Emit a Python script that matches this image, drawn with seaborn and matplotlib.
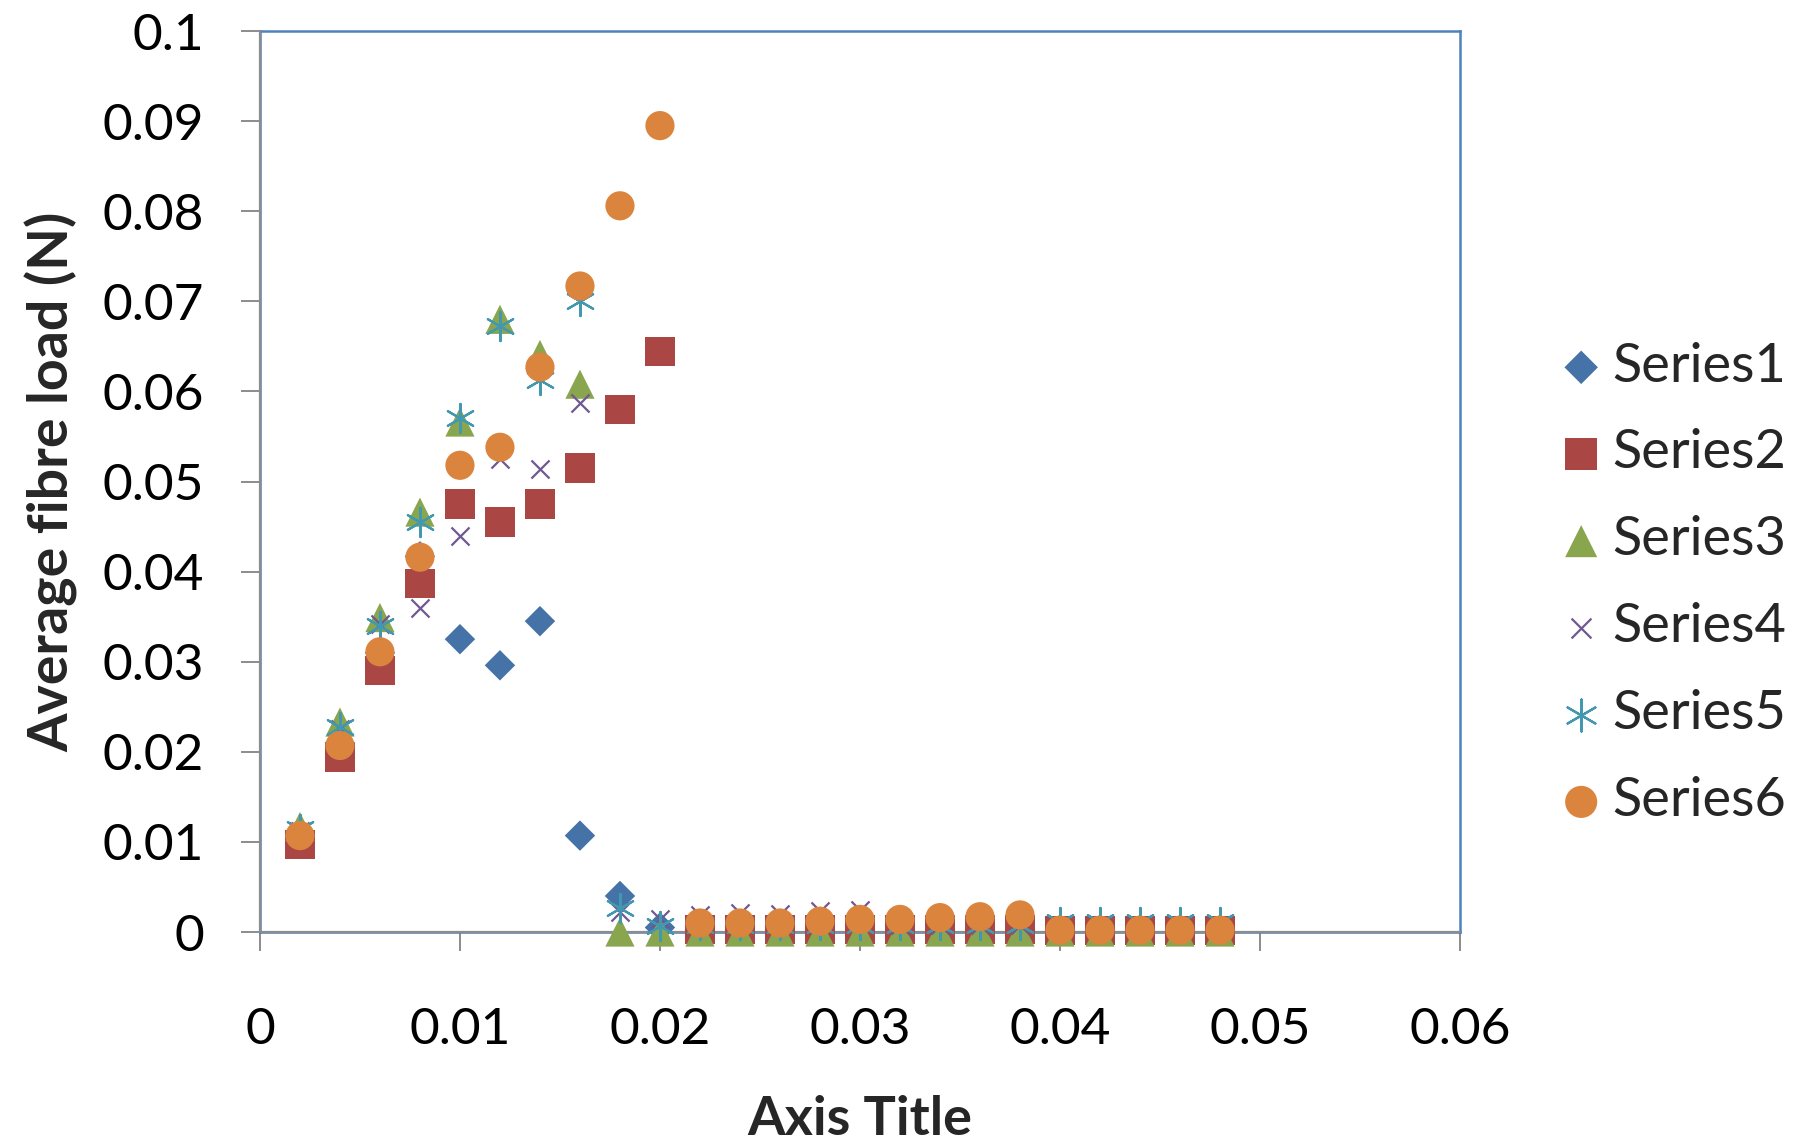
import matplotlib
matplotlib.use("Agg")
import matplotlib.pyplot as plt
import seaborn as sns
import numpy as np

# Fibre position along the sample
x_vals = [0.002, 0.004, 0.006, 0.008, 0.010, 0.012, 0.014, 0.016, 0.018, 0.020,
          0.022, 0.024, 0.026, 0.028, 0.030, 0.032, 0.034, 0.036, 0.038,
          0.040, 0.042, 0.044, 0.046, 0.048]

series1 = [0.0110, 0.0210, 0.0310, 0.0417, 0.0325, 0.0296, 0.0345, 0.0107, 0.0040, 0.0005,
           0.0003, 0.0003, 0.0003, 0.0003, 0.0003, 0.0003, 0.0003, 0.0003, 0.0003,
           0.0003, 0.0003, 0.0003, 0.0003, 0.0003]
series2 = [0.0097, 0.0194, 0.0290, 0.0387, 0.0475, 0.0455, 0.0475, 0.0515, 0.0580, 0.0644,
           0.0003, 0.0003, 0.0003, 0.0003, 0.0003, 0.0003, 0.0003, 0.0003, 0.0003,
           0.0002, 0.0002, 0.0002, 0.0002, 0.0002]
series3 = [0.0117, 0.0233, 0.0349, 0.0466, 0.0566, 0.0680, 0.0641, 0.0608, 0.0000, 0.0000,
           0.0000, 0.0000, 0.0000, 0.0000, 0.0000, 0.0000, 0.0000, 0.0000, 0.0000,
           0.0000, 0.0000, 0.0000, 0.0000, 0.0000]
series4 = [0.0112, 0.0225, 0.0342, 0.0360, 0.0439, 0.0525, 0.0514, 0.0587, 0.0022, 0.0014,
           0.0019, 0.0021, 0.0020, 0.0023, 0.0024, 0.0008, 0.0008, 0.0008, 0.0008,
           0.0005, 0.0005, 0.0005, 0.0005, 0.0005]
series5 = [0.0114, 0.0227, 0.0340, 0.0455, 0.0571, 0.0673, 0.0613, 0.0700, 0.0027, 0.0007,
           0.0008, 0.0008, 0.0008, 0.0008, 0.0008, 0.0008, 0.0008, 0.0008, 0.0008,
           0.0011, 0.0011, 0.0011, 0.0011, 0.0011]
series6 = [0.0107, 0.0207, 0.0311, 0.0416, 0.0518, 0.0538, 0.0627, 0.0717, 0.0806, 0.0895,
           0.0010, 0.0010, 0.0010, 0.0012, 0.0014, 0.0014, 0.0016, 0.0017, 0.0019,
           0.0002, 0.0002, 0.0002, 0.0002, 0.0002]

series_names = ["Series1", "Series2", "Series3", "Series4", "Series5", "Series6"]
x_ticks = [0, 0.01, 0.02, 0.03, 0.04, 0.05, 0.06]
x_tick_labels = ["0", "0.01", "0.02", "0.03", "0.04", "0.05", "0.06"]
y_ticks = [0, 0.01, 0.02, 0.03, 0.04, 0.05, 0.06, 0.07, 0.08, 0.09, 0.1]
y_tick_labels = ["0", "0.01", "0.02", "0.03", "0.04", "0.05", "0.06", "0.07", "0.08", "0.09", "0.1"]

sns.set_theme(style="white")
plt.rcParams["font.family"] = ["Lato", "DejaVu Sans"]

fig = plt.figure(figsize=(18.05, 11.44), dpi=100)
ax = fig.add_axes([0.1440, 0.1853, 0.8089 - 0.1440, 0.9729 - 0.1853])

styles = [
    dict(marker="D", color="#4572A7", s=15.5 ** 2, linewidth=0),
    dict(marker="s", color="#AA4643", s=21 ** 2, linewidth=0),
    dict(marker="^", color="#89A54E", s=21 ** 2, linewidth=0),
    dict(marker="x", color="#71588F", s=13 ** 2, linewidth=1.6),
    dict(marker=(6, 2, 0), color="#4198AF", s=21 ** 2, linewidth=1.6),
    dict(marker="o", color="#DB843D", s=21 ** 2, linewidth=0),
]
all_series = [series1, series2, series3, series4, series5, series6]

for name, ys, st in zip(series_names, all_series, styles):
    kw = dict(st)
    if kw["marker"] in ("D", "s", "^", "o"):
        kw["edgecolor"] = "none"
    sns.scatterplot(x=x_vals, y=ys, ax=ax, label=name, zorder=3, clip_on=False, **kw)

ax.set_xlim(0, 0.06)
ax.set_ylim(0, 0.1)
ax.set_xticks(x_ticks)
ax.set_xticklabels(x_tick_labels)
ax.set_yticks(y_ticks)
ax.set_yticklabels(y_tick_labels)
ax.grid(False)

for side in ["top", "right", "left", "bottom"]:
    ax.spines[side].set_color("#4F81BD")
    ax.spines[side].set_linewidth(1.8)
    ax.spines[side].set_zorder(1)

# grey category/value axis lines along the left and bottom
ax.plot([0, 1], [0, 0], transform=ax.transAxes, color="#8C8C8C", lw=1.6,
        zorder=1.5, clip_on=False)
ax.plot([0, 0], [0, 1], transform=ax.transAxes, color="#8C8C8C", lw=1.6,
        zorder=1.5, clip_on=False)

ax.tick_params(axis="both", which="both", direction="out", length=14, width=1.4,
               color="#8C8C8C", labelsize=37, labelcolor="black",
               bottom=True, left=True)
ax.tick_params(axis="y", pad=26)
ax.tick_params(axis="x", pad=40)

ax.set_xlabel("Axis Title", fontsize=39, fontweight="bold", labelpad=30)
ax.set_ylabel("Average fibre load (N)", fontsize=40, fontweight="bold", labelpad=18)

leg = ax.legend(loc="center left", bbox_to_anchor=(1.084, 0.387), frameon=False,
                fontsize=39, handlelength=0.75, handletextpad=0.2,
                labelspacing=0.70, borderaxespad=0, borderpad=0, markerscale=1.1)

fig.savefig("out.png", dpi=100)
